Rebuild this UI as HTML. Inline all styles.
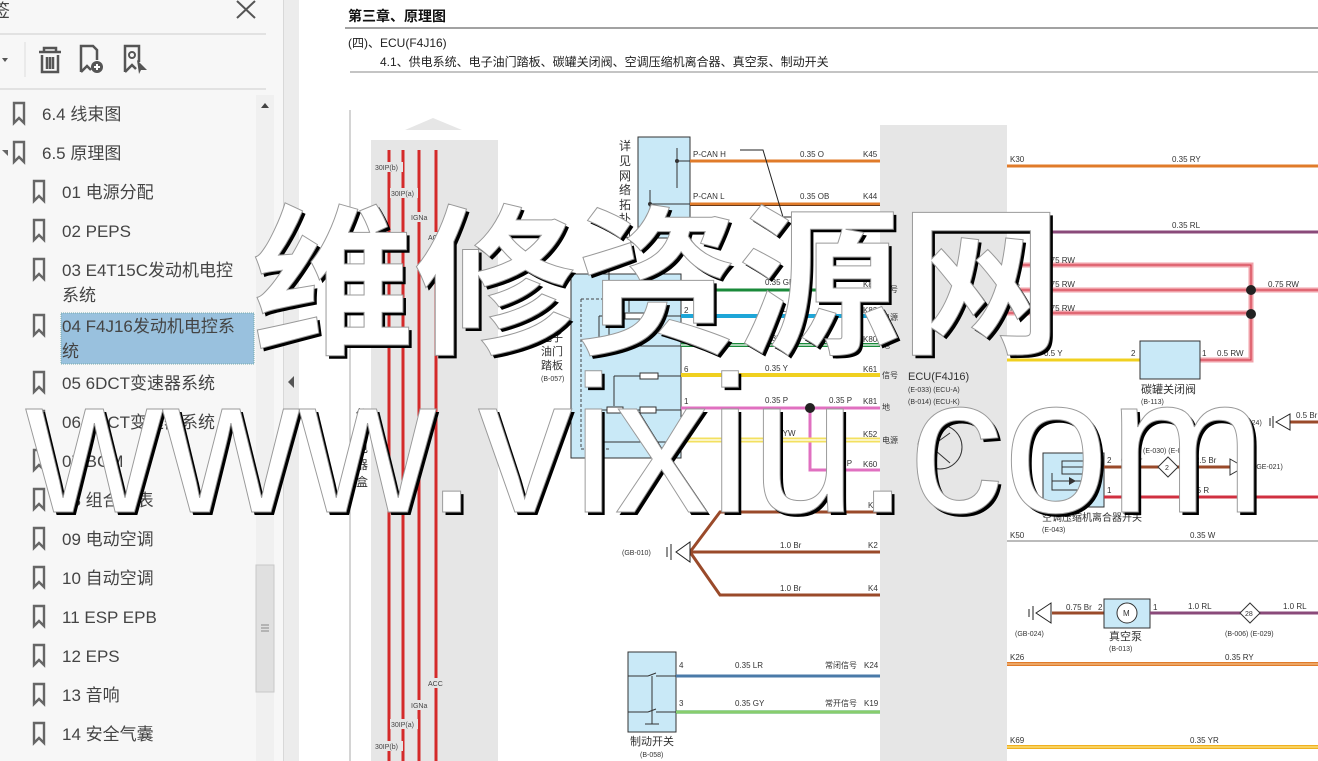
<!DOCTYPE html>
<html><head><meta charset="utf-8">
<style>
html,body{margin:0;padding:0;width:1318px;height:761px;overflow:hidden;background:#fff;font-family:"Liberation Sans","Noto Sans CJK SC",sans-serif;}
.wrap{position:relative;width:1318px;height:761px;}
.side{position:absolute;left:0;top:0;width:283px;height:761px;background:#f7f7f7;}
.div{position:absolute;left:283px;top:0;width:15px;height:761px;background:#ececec;border-left:1px solid #d8d8d8;}
svg{position:absolute;left:0;top:0;}
.wm{position:absolute;color:#fff;-webkit-text-stroke:1px #999;text-shadow:3px 3px 0 #000;white-space:nowrap;line-height:1;}
</style></head><body><div class="wrap">
<div class="side"></div>
<div class="div"></div>
<svg width="1318" height="761" viewBox="0 0 1318 761" font-family="Liberation Sans, Noto Sans CJK SC, sans-serif">
<text x="-8" y="17" font-size="18" fill="#444">签</text>
<path d="M237 1 L255 18 M255 1 L237 18" stroke="#555" stroke-width="2"/>
<line x1="0" y1="34" x2="266" y2="34" stroke="#ccc"/>
<path d="M2 58 l6 0 l-3 4z" fill="#555"/>
<line x1="25" y1="42" x2="25" y2="77" stroke="#ddd"/>
<g stroke="#555" stroke-width="2.5" fill="none">
<path d="M39 52 h22 M44 52 v-4 h12 v4 M42 55 v17 h16 v-17 M47 57 v12 M50 57 v12 M53 57 v12"/>
<path d="M81 72 v-26 h12 l4 4 v10 M81 72 l6 -6 l4 4"/>
<path d="M125 72 v-26 h14 v16 M125 72 l7 -7 l4 4"/>
</g>
<circle cx="97" cy="67" r="6" fill="#555"/><path d="M94 67h6M97 64v6" stroke="#fff" stroke-width="2"/>
<circle cx="132" cy="55" r="3" fill="none" stroke="#555" stroke-width="2"/>
<path d="M137 60 l10 10 l-6 0 l-2 4z" fill="#555"/>
<line x1="0" y1="89" x2="266" y2="89" stroke="#ccc"/>
<rect x="256" y="95" width="18" height="666" fill="#f0f0f0"/>
<path d="M261 108 l4 -5 l4 5z" fill="#444"/>
<rect x="256" y="565" width="18" height="127" fill="#e0e0e0" stroke="#c8c8c8"/>
<path d="M261 625h8M261 628h8M261 631h8" stroke="#888"/>
<path d="M2 150 l6 6 l0 -6z" fill="#666"/>
<rect x="61" y="313" width="193" height="51" fill="#99c1de" stroke="#7aa" stroke-dasharray="1 1"/>
<g fill="none" stroke="#666" stroke-width="2.4">
<path d="M14 103 v20 l5 -5 l5 5 v-20z"/>
<path d="M14 142 v20 l5 -5 l5 5 v-20z"/>
<path d="M34 181 v20 l5 -5 l5 5 v-20z"/><path d="M34 220 v20 l5 -5 l5 5 v-20z"/>
<path d="M34 259 v20 l5 -5 l5 5 v-20z"/><path d="M34 315 v20 l5 -5 l5 5 v-20z"/>
<path d="M34 372 v20 l5 -5 l5 5 v-20z"/><path d="M34 411 v20 l5 -5 l5 5 v-20z"/>
<path d="M34 450 v20 l5 -5 l5 5 v-20z"/><path d="M34 489 v20 l5 -5 l5 5 v-20z"/>
<path d="M34 528 v20 l5 -5 l5 5 v-20z"/><path d="M34 567 v20 l5 -5 l5 5 v-20z"/>
<path d="M34 606 v20 l5 -5 l5 5 v-20z"/><path d="M34 645 v20 l5 -5 l5 5 v-20z"/>
<path d="M34 684 v20 l5 -5 l5 5 v-20z"/><path d="M34 723 v20 l5 -5 l5 5 v-20z"/>
</g>
<path d="M294 376 l-6 6 l6 6z" fill="#555"/>
<g font-size="17" fill="#444">
<text x="42" y="120">6.4 线束图</text><text x="42" y="159">6.5 原理图</text>
<text x="62" y="198">01 电源分配</text><text x="62" y="237">02 PEPS</text>
<text x="62" y="276">03 E4T15C发动机电控</text><text x="62" y="301">系统</text>
<text x="62" y="332">04 F4J16发动机电控系</text><text x="62" y="357">统</text>
<text x="62" y="389">05 6DCT变速器系统</text><text x="62" y="428">06 7DCT变速器系统</text>
<text x="62" y="467">07 BCM</text><text x="62" y="506">08 组合仪表</text>
<text x="62" y="545">09 电动空调</text><text x="62" y="584">10 自动空调</text>
<text x="62" y="623">11 ESP EPB</text><text x="62" y="662">12 EPS</text>
<text x="62" y="701">13 音响</text><text x="62" y="740">14 安全气囊</text>
</g>

<text x="348" y="21" font-size="14" font-weight="bold" fill="#111">第三章、原理图</text>
<line x1="345" y1="28" x2="1318" y2="28" stroke="#444"/>
<text x="348" y="47" font-size="12" fill="#222">(四)、ECU(F4J16)</text>
<text x="380" y="66" font-size="12" fill="#222">4.1、供电系统、电子油门踏板、碳罐关闭阀、空调压缩机离合器、真空泵、制动开关</text>
<line x1="350" y1="72" x2="1318" y2="72" stroke="#888"/>

<line x1="350" y1="110" x2="350" y2="761" stroke="#aaa"/>
<path d="M405 130 L433 118 L462 130z" fill="#e6e6e6"/>
<rect x="371" y="140" width="127" height="621" fill="#e6e6e6"/>
<rect x="880" y="125" width="127" height="636" fill="#e6e6e6"/>
<g stroke="#d42a2a" stroke-width="3">
<line x1="389" y1="150" x2="389" y2="761"/><line x1="403" y1="150" x2="403" y2="761"/>
<line x1="419" y1="150" x2="419" y2="761"/><line x1="436" y1="150" x2="436" y2="761"/>
</g>
<g font-size="7" fill="#444">
<rect x="373" y="162" width="30" height="10" fill="#e6e6e6"/><text x="375" y="170">30IP(b)</text>
<rect x="390" y="188" width="28" height="10" fill="#e6e6e6"/><text x="391" y="196">30IP(a)</text>
<rect x="410" y="212" width="18" height="10" fill="#e6e6e6"/><text x="411" y="220">IGNa</text>
<rect x="427" y="232" width="18" height="10" fill="#e6e6e6"/><text x="428" y="240">ACC</text>
<rect x="427" y="678" width="18" height="10" fill="#e6e6e6"/><text x="428" y="686">ACC</text>
<rect x="410" y="700" width="18" height="10" fill="#e6e6e6"/><text x="411" y="708">IGNa</text>
<rect x="390" y="719" width="28" height="10" fill="#e6e6e6"/><text x="391" y="727">30IP(a)</text>
<rect x="373" y="741" width="30" height="10" fill="#e6e6e6"/><text x="375" y="749">30IP(b)</text>
</g>
<g font-size="12" fill="#333"><text x="356" y="418">仪</text><text x="356" y="435">表</text><text x="356" y="452">电</text><text x="356" y="469">器</text><text x="356" y="486">盒</text></g>

<rect x="638" y="137" width="52" height="101" fill="#c9e9f7" stroke="#333"/>
<g font-size="12" fill="#333"><text x="619" y="150">详</text><text x="619" y="165">见</text><text x="619" y="180">网</text><text x="619" y="194">络</text><text x="619" y="209">拓</text><text x="619" y="223">扑</text><text x="619" y="237">图</text></g>
<path d="M677 148 v40 M677 161 h13 M650 190 v40 M650 204 h40" stroke="#333"/>
<circle cx="677" cy="161" r="2" fill="#333"/><circle cx="650" cy="204" r="2" fill="#333"/>
<line x1="690" y1="161" x2="880" y2="161" stroke="#e07b2a" stroke-width="3"/>
<line x1="690" y1="204" x2="880" y2="204" stroke="#e07b2a" stroke-width="3"/><line x1="690" y1="205.5" x2="880" y2="205.5" stroke="#6a3a1a" stroke-width="1"/>
<path d="M740 150 h23 l20 67 h22" stroke="#222" fill="none"/>
<g font-size="8" fill="#333">
<text x="693" y="157">P-CAN H</text><text x="800" y="157">0.35 O</text><text x="863" y="157">K45</text>
<text x="693" y="199">P-CAN L</text><text x="800" y="199">0.35 OB</text><text x="863" y="199">K44</text>
</g>

<rect x="571" y="274" width="110" height="184" fill="#c9e9f7" stroke="#333"/>
<path d="M591 268 l6 -3 l0 6z" fill="none" stroke="#333"/>
<path d="M597 268 h12 v75" stroke="#333" fill="none"/>
<path d="M581 299 v150 M581 299 h30 M581 449 h30" stroke="#444" stroke-dasharray="3 2" fill="none"/>
<path d="M629 285 v27 M629 289 h52 M599 316 v30 h82 M599 316 h82 M614 376 h67 M614 376 v30 M600 410 v32 h81 M600 410 h81" stroke="#333" fill="none"/>
<rect x="640" y="286" width="18" height="6" fill="#fff" stroke="#333"/>
<rect x="625" y="313" width="20" height="6" fill="#fff" stroke="#333"/>
<rect x="640" y="373" width="18" height="6" fill="#fff" stroke="#333"/>
<rect x="607" y="407" width="16" height="6" fill="#fff" stroke="#333"/>
<rect x="640" y="407" width="16" height="6" fill="#fff" stroke="#333"/>
<line x1="681" y1="290" x2="880" y2="290" stroke="#1a8a3a" stroke-width="3"/>
<line x1="681" y1="316" x2="880" y2="316" stroke="#1ea6d8" stroke-width="4"/>
<line x1="681" y1="345" x2="880" y2="345" stroke="#1a8a3a" stroke-width="4"/><line x1="681" y1="345" x2="880" y2="345" stroke="#fff" stroke-width="1.2"/>
<line x1="681" y1="375" x2="880" y2="375" stroke="#f0d020" stroke-width="4"/>
<line x1="681" y1="408" x2="880" y2="408" stroke="#e070c0" stroke-width="3"/>
<path d="M810 408 v62 h70" stroke="#e070c0" stroke-width="3" fill="none"/>
<circle cx="810" cy="408" r="5" fill="#222"/>
<line x1="681" y1="440" x2="880" y2="440" stroke="#f3e060" stroke-width="5"/><line x1="681" y1="440" x2="880" y2="440" stroke="#fff" stroke-width="1.2"/>
<g font-size="8" fill="#333">
<text x="684" y="287">3</text><text x="765" y="285">0.35 GB</text><text x="863" y="287">K83</text><text x="882" y="292">信号</text>
<text x="684" y="313">2</text><text x="765" y="312">0.35 L</text><text x="863" y="313">K82</text><text x="882" y="320">电源</text>
<text x="684" y="342">4</text><text x="765" y="341">0.35 GW</text><text x="863" y="342">K80</text><text x="882" y="348">地</text>
<text x="684" y="372">6</text><text x="765" y="371">0.35 Y</text><text x="863" y="372">K61</text><text x="882" y="378">信号</text>
<text x="684" y="404">1</text><text x="765" y="403">0.35 P</text><text x="829" y="403">0.35 P</text><text x="863" y="404">K81</text><text x="882" y="410">地</text>
<text x="684" y="437">5</text><text x="765" y="436">0.35 YW</text><text x="863" y="437">K52</text><text x="882" y="443">电源</text>
<text x="829" y="466">0.35 P</text><text x="863" y="467">K60</text>
</g>
<g font-size="11" fill="#333"><text x="541" y="341">电子</text><text x="541" y="355">油门</text><text x="541" y="369">踏板</text></g>
<text x="541" y="381" font-size="7" fill="#333">(B-057)</text>

<text x="908" y="380" font-size="11" fill="#333">ECU(F4J16)</text>
<text x="908" y="392" font-size="7" fill="#333">(E-033) (ECU-A)</text>
<text x="908" y="404" font-size="7" fill="#333">(B-014) (ECU-K)</text>
<circle cx="940" cy="447" r="22" fill="none" stroke="#333"/>
<path d="M926 447 h10 M936 433 v28 M936 443 l14 -10 M936 451 l14 12" stroke="#333" fill="none"/>

<g stroke="#9a4a2a" stroke-width="3" fill="none">
<path d="M690 552 L720 512 H880 M690 552 H880 M690 552 L720 595 H880"/>
</g>
<path d="M690 542 v20 l-14 -10z" fill="#fff" stroke="#222"/>
<path d="M671 544 v16 M667 547 v10" stroke="#222"/>
<text x="622" y="555" font-size="7" fill="#333">(GB-010)</text>
<g font-size="8" fill="#333"><text x="780" y="508">1.0 Br</text><text x="868" y="508">K1</text><text x="780" y="548">1.0 Br</text><text x="868" y="548">K2</text><text x="780" y="591">1.0 Br</text><text x="868" y="591">K4</text></g>

<rect x="628" y="652" width="48" height="80" fill="#c9e9f7" stroke="#333"/>
<path d="M628 676 h20 M656 676 h20 M628 712 h20 M656 712 h20 M648 676 l8 -3 M648 712 l8 -3 M652 676 v48 M645 724 h14" stroke="#333" fill="none"/>
<line x1="676" y1="676" x2="880" y2="676" stroke="#4a7aa8" stroke-width="3"/>
<line x1="676" y1="712" x2="880" y2="712" stroke="#3aaa3a" stroke-width="3"/><line x1="676" y1="712" x2="880" y2="712" stroke="#d8f0a0" stroke-width="1"/>
<g font-size="8" fill="#333"><text x="679" y="668">4</text><text x="735" y="668">0.35 LR</text><text x="825" y="668">常闭信号</text><text x="864" y="668">K24</text>
<text x="679" y="706">3</text><text x="735" y="706">0.35 GY</text><text x="825" y="706">常开信号</text><text x="864" y="706">K19</text></g>
<text x="630" y="745" font-size="11" fill="#333">制动开关</text>
<text x="640" y="757" font-size="7" fill="#333">(B-058)</text>

<line x1="1007" y1="166" x2="1318" y2="166" stroke="#e07b2a" stroke-width="3"/>
<line x1="1007" y1="232" x2="1318" y2="232" stroke="#8a4a7a" stroke-width="3"/>
<g stroke="#f0a0a8" stroke-width="5" fill="none"><path d="M1007 265 H1251 V360 H1200 M1007 290 H1318 M1007 313 H1251"/></g>
<g stroke="#d03040" stroke-width="1" fill="none"><path d="M1007 265 H1251 V360 H1200 M1007 290 H1318 M1007 313 H1251"/></g>
<circle cx="1251" cy="290" r="5" fill="#222"/><circle cx="1251" cy="314" r="5" fill="#222"/>
<line x1="1007" y1="360" x2="1140" y2="360" stroke="#f0d020" stroke-width="3"/>
<rect x="1140" y="341" width="60" height="38" fill="#c9e9f7" stroke="#333"/>
<g font-size="8" fill="#333">
<text x="1010" y="162">K30</text><text x="1172" y="162">0.35 RY</text>
<text x="1010" y="228">K67</text><text x="1172" y="228">0.35 RL</text>
<text x="1010" y="263">K3</text><text x="1044" y="263">0.75 RW</text>
<text x="1010" y="287">K5</text><text x="1044" y="287">0.75 RW</text><text x="1268" y="287">0.75 RW</text>
<text x="1010" y="311">K6</text><text x="1044" y="311">0.75 RW</text>
<text x="1010" y="356">K57</text><text x="1044" y="356">0.5 Y</text><text x="1131" y="356">2</text><text x="1202" y="356">1</text><text x="1217" y="356">0.5 RW</text>
</g>
<text x="1141" y="393" font-size="11" fill="#333">碳罐关闭阀</text>
<text x="1141" y="404" font-size="7" fill="#333">(B-113)</text>
<line x1="1290" y1="422" x2="1318" y2="422" stroke="#9a4a2a" stroke-width="3"/>
<path d="M1276 422 l14 -8 v16z" fill="#fff" stroke="#222"/><path d="M1273 416 v12 M1270 418 v8" stroke="#222"/>
<text x="1233" y="425" font-size="7" fill="#333">(GB-024)</text><text x="1296" y="418" font-size="8" fill="#333">0.5 Br</text>
<rect x="1043" y="453" width="61" height="54" fill="#c9e9f7" stroke="#333"/>
<path d="M1062 467 h34 M1052 473 v17 h40 M1052 481 h40" stroke="#333" fill="none"/><rect x="1062" y="461" width="24" height="13" fill="none" stroke="#333"/>
<path d="M1069 477 l7 4 l-7 4z" fill="#333"/>
<line x1="1104" y1="467" x2="1240" y2="467" stroke="#9a4a2a" stroke-width="3"/>
<path d="M1168 457 l10 10 l-10 10 l-10 -10z" fill="#fff" stroke="#333"/><text x="1165" y="470" font-size="7" fill="#333">2</text>
<path d="M1230 459 l14 8 l-14 8z M1245 459 v16" fill="#fff" stroke="#333"/>
<line x1="1104" y1="497" x2="1318" y2="497" stroke="#d03040" stroke-width="3"/>
<g font-size="8" fill="#333"><text x="1107" y="463">2</text><text x="1121" y="463">0.5 Br</text><text x="1195" y="463">2.5 Br</text><text x="1107" y="493">1</text><text x="1190" y="493">0.5 R</text></g>
<text x="1143" y="453" font-size="7" fill="#333">(E-030) (E-039)</text><text x="1254" y="469" font-size="7" fill="#333">(GE-021)</text>
<text x="1042" y="521" font-size="10" fill="#333">空调压缩机离合器开关</text><text x="1042" y="532" font-size="7" fill="#333">(E-043)</text>
<line x1="1007" y1="541" x2="1318" y2="541" stroke="#777" stroke-width="1"/>
<g font-size="8" fill="#333"><text x="1010" y="538">K50</text><text x="1190" y="538">0.35 W</text></g>
<line x1="1052" y1="613" x2="1104" y2="613" stroke="#9a4a2a" stroke-width="3"/>
<path d="M1036 613 l15 -10 v20z" fill="#fff" stroke="#222"/><path d="M1033 606 v14 M1029 609 v8" stroke="#222"/>
<rect x="1104" y="599" width="46" height="29" fill="#c9e9f7" stroke="#333"/>
<circle cx="1127" cy="613" r="10" fill="#fff" stroke="#333"/><text x="1123" y="616" font-size="8" fill="#333">M</text>
<line x1="1150" y1="613" x2="1318" y2="613" stroke="#8a4a7a" stroke-width="3"/>
<path d="M1250 603 l10 10 l-10 10 l-10 -10z" fill="#fff" stroke="#333"/><text x="1245" y="616" font-size="7" fill="#333">28</text>
<g font-size="8" fill="#333"><text x="1066" y="610">0.75 Br</text><text x="1098" y="610">2</text><text x="1153" y="610">1</text><text x="1188" y="609">1.0 RL</text><text x="1283" y="609">1.0 RL</text></g>
<text x="1015" y="636" font-size="7" fill="#333">(GB-024)</text><text x="1225" y="636" font-size="7" fill="#333">(B-006) (E-029)</text>
<text x="1109" y="640" font-size="11" fill="#333">真空泵</text><text x="1109" y="651" font-size="7" fill="#333">(B-013)</text>
<line x1="1007" y1="664" x2="1318" y2="664" stroke="#e07b2a" stroke-width="4"/><line x1="1007" y1="664" x2="1318" y2="664" stroke="#f8d0a0" stroke-width="1"/>
<line x1="1007" y1="747" x2="1318" y2="747" stroke="#f0b020" stroke-width="4"/><line x1="1007" y1="747" x2="1318" y2="747" stroke="#fff3a0" stroke-width="1"/>
<g font-size="8" fill="#333"><text x="1010" y="660">K26</text><text x="1225" y="660">0.35 RY</text><text x="1010" y="743">K69</text><text x="1190" y="743">0.35 YR</text></g>
</svg>
<div class="wm" style="left:252px;top:190px;font-size:162px;font-family:'Noto Sans CJK SC',sans-serif;font-weight:700;">维修资源网</div>
<div class="wm" style="left:26px;top:348px;font-size:195px;transform:scaleX(0.97);transform-origin:0 0;">www.vixiu.com</div>
</div></body></html>
